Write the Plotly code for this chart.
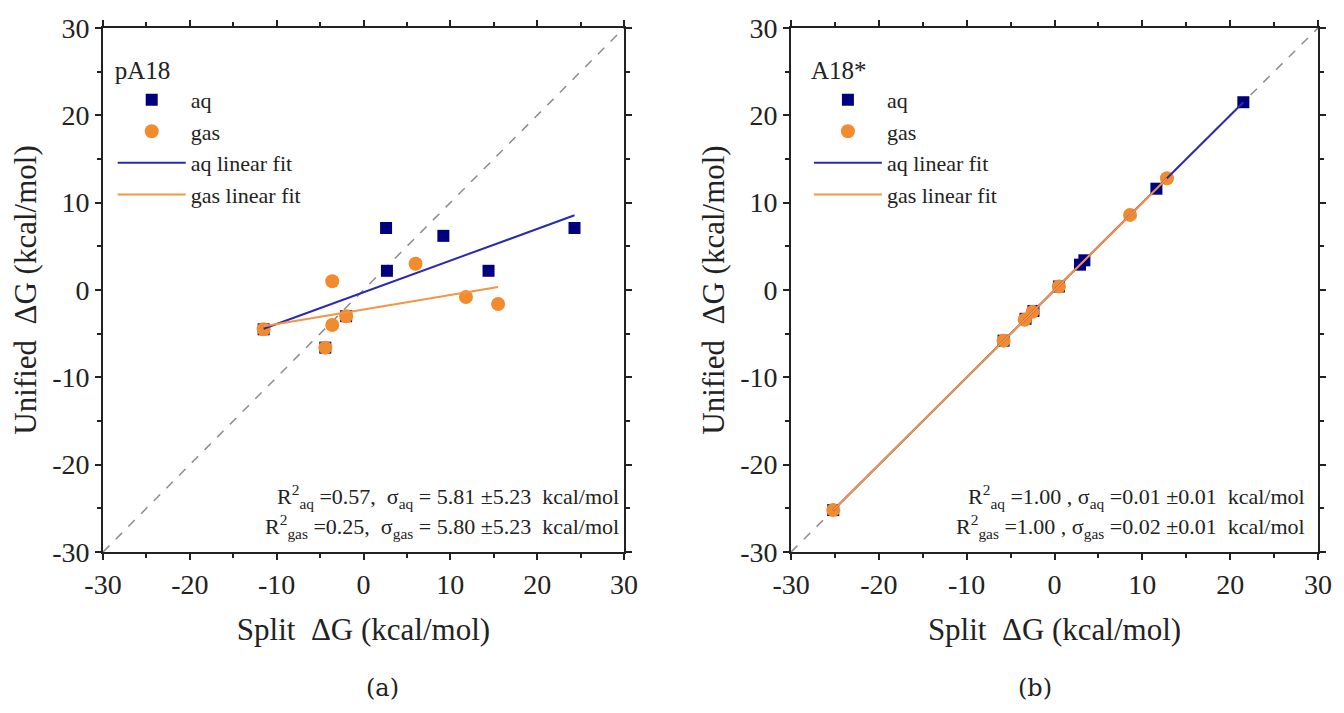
import numpy as np
import plotly.graph_objects as go

# ---- data ----
a_aq_x = [-11.5, -4.4, -2.0, 2.6, 2.7, 9.2, 14.4, 24.3]
a_aq_y = [-4.5, -6.6, -3.0, 7.1, 2.2, 6.2, 2.2, 7.1]
a_gas_x = [-11.5, -4.4, -3.6, -3.6, -2.0, 6.0, 11.8, 15.5]
a_gas_y = [-4.5, -6.6, -4.0, 1.0, -3.0, 3.0, -0.8, -1.6]

b_aq_x = [-25.2, -5.8, -3.3, -2.4, 0.5, 2.9, 3.4, 11.6, 21.5]
b_aq_y = [-25.2, -5.8, -3.3, -2.4, 0.4, 2.9, 3.4, 11.6, 21.5]
b_gas_x = [-25.2, -5.8, -3.4, -2.5, 0.5, 8.6, 12.8]
b_gas_y = [-25.2, -5.8, -3.4, -2.5, 0.4, 8.6, 12.8]

panel_labels = ["pA18", "A18*"]
stats_a = ["R<sup>2</sup><sub>aq</sub> =0.57,  σ<sub>aq</sub> = 5.81 ±5.23  kcal/mol",
           "R<sup>2</sup><sub>gas</sub> =0.25,  σ<sub>gas</sub> = 5.80 ±5.23  kcal/mol"]
stats_b = ["R<sup>2</sup><sub>aq</sub> =1.00 , σ<sub>aq</sub> =0.01 ±0.01  kcal/mol",
           "R<sup>2</sup><sub>gas</sub> =1.00 , σ<sub>gas</sub> =0.02 ±0.01  kcal/mol"]
captions = ["(a)", "(b)"]
axis_ticks = [-30, -20, -10, 0, 10, 20, 30]
axis_ticktext = ["-30", "-20", "-10", "0", "10", "20", "30"]

AQ = "#00007f"
AQ_LINE = "#2a2ab0"
GAS = "#f28a2e"
GAS_LINE = "#f7943f"
FONT = "Liberation Serif"

fig = go.Figure()


def fit_line(x, y):
    k, b = np.polyfit(x, y, 1)
    xs = np.array([min(x), max(x)])
    return xs, k * xs + b


panels = [
    (a_aq_x, a_aq_y, a_gas_x, a_gas_y, "x", "y", "legend"),
    (b_aq_x, b_aq_y, b_gas_x, b_gas_y, "x2", "y2", "legend2"),
]
for i, (ax, ay, gx, gy, xa, ya, lg) in enumerate(panels):
    fig.add_trace(go.Scatter(x=[-30, 30], y=[-30, 30], mode="lines",
                             line=dict(color="#8c8c8c", dash="dash", width=1.5),
                             showlegend=False, xaxis=xa, yaxis=ya, hoverinfo="skip"))
    fig.add_trace(go.Scatter(x=ax, y=ay, mode="markers", name="aq",
                             marker=dict(symbol="square", size=12, color=AQ),
                             xaxis=xa, yaxis=ya, legend=lg))
    fig.add_trace(go.Scatter(x=gx, y=gy, mode="markers", name="gas",
                             marker=dict(symbol="circle", size=14, color=GAS),
                             xaxis=xa, yaxis=ya, legend=lg))
    fx, fy = fit_line(ax, ay)
    fig.add_trace(go.Scatter(x=fx, y=fy, mode="lines", name="aq linear fit",
                             line=dict(color=AQ_LINE, width=2),
                             xaxis=xa, yaxis=ya, legend=lg))
    fx, fy = fit_line(gx, gy)
    fig.add_trace(go.Scatter(x=fx, y=fy, mode="lines", name="gas linear fit",
                             line=dict(color=GAS_LINE, width=2),
                             xaxis=xa, yaxis=ya, legend=lg))

axis_common = dict(range=[-30, 30], tickmode="array", tickvals=axis_ticks, ticktext=axis_ticktext,
                   ticks="outside", ticklen=6,
                   tickwidth=1.5, tickcolor="#222", showline=True, linecolor="#222",
                   linewidth=1.8, mirror="ticks", showgrid=False, zeroline=False,
                   tickfont=dict(family=FONT, size=28, color="#222"),
                   minor=dict(dtick=5, tick0=0, ticks="outside", ticklen=4, tickcolor="#222"))

title_font = dict(family=FONT, size=31, color="#222")

fig.update_layout(
    width=1344, height=713,
    margin=dict(l=103, r=19, t=28, b=161),
    paper_bgcolor="white", plot_bgcolor="white",
    font=dict(family=FONT, color="#222"),
    xaxis=dict(domain=[0, 0.4288], anchor="y",
               title=dict(text="Split  ΔG (kcal/mol)", font=title_font, standoff=20),
               **axis_common),
    yaxis=dict(domain=[0, 1], anchor="x",
               title=dict(text="Unified  ΔG (kcal/mol)", font=title_font, standoff=6),
               **axis_common),
    xaxis2=dict(domain=[0.5663, 1], anchor="y2",
                title=dict(text="Split  ΔG (kcal/mol)", font=title_font, standoff=20),
                **axis_common),
    yaxis2=dict(domain=[0, 1], anchor="x2",
                title=dict(text="Unified  ΔG (kcal/mol)", font=title_font, standoff=6),
                **axis_common),
    legend=dict(x=0.008, y=0.965, xanchor="left", yanchor="top", bgcolor="rgba(0,0,0,0)",
                title=dict(text=panel_labels[0], font=dict(family=FONT, size=25)),
                font=dict(family=FONT, size=22), itemwidth=68, tracegroupgap=0),
    legend2=dict(x=0.581, y=0.965, xanchor="left", yanchor="top", bgcolor="rgba(0,0,0,0)",
                 title=dict(text=panel_labels[1], font=dict(family=FONT, size=25)),
                 font=dict(family=FONT, size=22), itemwidth=68, tracegroupgap=0),
)

annos = []
for xr, yr, lines, xpos in [("x", "y", stats_a, 29.6), ("x2", "y2", stats_b, 28.8)]:
    for j, t in enumerate(lines):
        annos.append(dict(x=xpos, y=-23.6 - 3.5 * j, xref=xr, yref=yr, text=t,
                          showarrow=False, xanchor="right", yanchor="middle",
                          font=dict(family=FONT, size=22, color="#222")))
annos.append(dict(x=0.2145, y=-0.29, xref="paper", yref="paper", text=captions[0],
                  showarrow=False, font=dict(family="DejaVu Serif", size=24, color="#222")))
annos.append(dict(x=0.783, y=-0.29, xref="paper", yref="paper", text=captions[1],
                  showarrow=False, font=dict(family="DejaVu Serif", size=24, color="#222")))
fig.update_layout(annotations=annos)

fig.write_html("out.html", config={"displayModeBar": False},
               post_script="document.body.style.margin='0';")
